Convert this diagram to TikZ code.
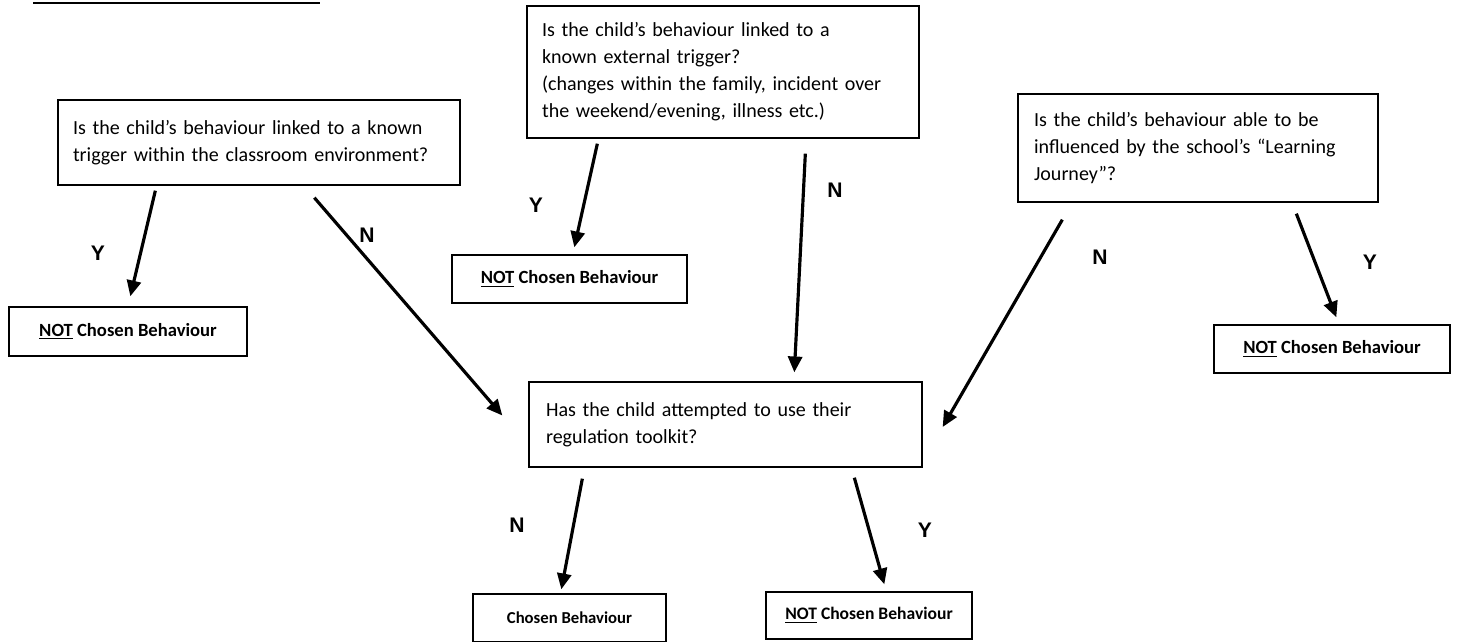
\documentclass[tikz,border=0pt]{standalone}
\usepackage{fontspec}
\setmainfont{Carlito}
\newfontfamily\arialfont{Liberation Sans}
\usetikzlibrary{arrows.meta,calc}

\begin{document}
\begin{tikzpicture}[x=0.02cm, y=-0.02cm,
    qbox/.style={draw, line width=0.8pt, align=left, inner sep=0pt,
      font=\fontsize{11.4}{15.4}\selectfont},
    obox/.style={draw, line width=0.8pt, inner sep=0pt,
      font=\bfseries\fontsize{10.6}{12}\selectfont},
    arr/.style={line width=1.8pt, -{Triangle[length=9pt,width=8pt]}},
    yn/.style={font=\arialfont\bfseries\fontsize{12}{14}\selectfont}]
        \useasboundingbox (0,0) rectangle (1458,642);
        \draw[line width=1.2pt] (33,3) -- (320,3);
        % question boxes
        \node[qbox, minimum width=8.04cm, minimum height=1.7cm, text width=7.44cm] (classroom) at (259,142.5)
          {Is the child’s behaviour linked to a known\\trigger within the classroom environment?};
        \node[qbox, minimum width=7.84cm, minimum height=2.64cm, text width=7.24cm] (external) at (723,72)
          {Is the child’s behaviour linked to a\\known external trigger?\\(changes within the family, incident over\\the weekend/evening, illness etc.)};
        \node[qbox, minimum width=7.2cm, minimum height=2.16cm, text width=6.56cm] (journey) at (1198,148)
          {Is the child’s behaviour able to be\\influenced by the school’s “Learning\\Journey”?};
        \node[qbox, minimum width=7.86cm, minimum height=1.7cm, text width=7.18cm] (toolkit) at (725.5,424.5)
          {Has the child attempted to use their\\regulation toolkit?};
        % outcome boxes
        \node[obox, minimum width=4.76cm, minimum height=0.98cm] (notA) at (128,331.5) {\underline{NOT} Chosen Behaviour};
        \node[obox, minimum width=4.7cm, minimum height=0.96cm] (notB) at (569.5,279) {\underline{NOT} Chosen Behaviour};
        \node[obox, minimum width=4.72cm, minimum height=0.96cm] (notC) at (1332,349) {\underline{NOT} Chosen Behaviour};
        \node[obox, minimum width=3.86cm, minimum height=0.96cm, font=\bfseries\fontsize{9.5}{11}\selectfont] (chosen) at (569.5,618) {Chosen Behaviour};
        \node[obox, minimum width=4.12cm, minimum height=0.94cm, font=\bfseries\fontsize{10}{12}\selectfont] (notD) at (869,615.5) {\underline{NOT} Chosen Behaviour};
        % arrows
        \draw[arr] ($(classroom.south west)+(98,5)$) -- ($(notA.north west)+(122,-10)$);
        \draw[arr] ($(classroom.south west)+(257,12)$) -- ($(toolkit.west)+(-26,-9)$);
        \draw[arr] ($(external.south west)+(71,5)$) -- ($(notB.north west)+(123,-7)$);
        \draw[arr] ($(external.south west)+(279,15)$) -- ($(toolkit.north west)+(266,-9)$);
        \draw[arr] ($(journey.south west)+(45,17)$) -- ($(toolkit.east)+(20,2.5)$);
        \draw[arr] ($(journey.south west)+(279,11)$) -- ($(notC.north west)+(123,-7)$);
        \draw[arr] ($(toolkit.south west)+(54,11)$) -- ($(chosen.north west)+(89,-4)$);
        \draw[arr] ($(toolkit.south west)+(326,10)$) -- ($(notD.north west)+(119,-7)$);
        % labels
        \node[yn] (ya) at (98,253) {Y};
        \node[yn] (na) at (367,235) {N};
        \node[yn] (yb) at (536,205) {Y};
        \node[yn] (nb) at (835,190) {N};
        \node[yn] (nc) at (1100,257) {N};
        \node[yn] (yc) at (1370,262) {Y};
        \node[yn] (nd) at (517,525) {N};
        \node[yn] (yd) at (925,530) {Y};
      \end{tikzpicture}
\end{document}
